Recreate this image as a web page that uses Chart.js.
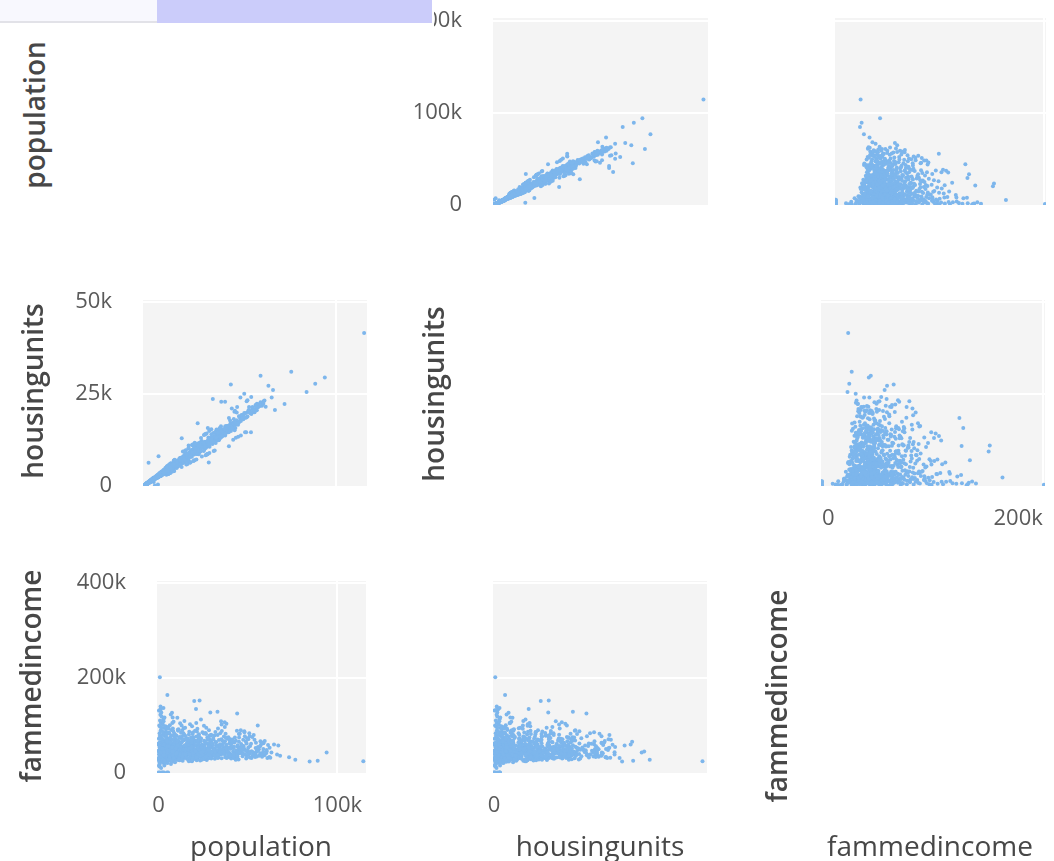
<!DOCTYPE html>
<html>
<head>
<meta charset="utf-8">
<script src="https://cdn.jsdelivr.net/npm/chart.js@4/dist/chart.umd.min.js"></script>
<style>
  html, body { margin: 0; padding: 0; background: #fff; }
  body { position: relative; width: 1054px; height: 861px; overflow: hidden; font-family: "Open Sans", sans-serif; }
  canvas { position: absolute; z-index: 1; }
  .title { position: absolute; color: #474747; white-space: nowrap; line-height: 1; z-index: 4; }
  .title.row { font-size: 28px; font-weight: 600; transform: translate(-50%, -50%) rotate(-90deg); }
  .title.col { font-size: 28px; transform: translate(-50%, -50%); }
  #bar { position: absolute; left: 0; top: 0; width: 434px; height: 31px; background: #fff; z-index: 10; }
  #bar .a { position: absolute; left: 0; top: 0; width: 157px; height: 21px; background: #f8f8fe; border-bottom: 2px solid #e2e2e8; }
  #bar .b { position: absolute; left: 157px; top: 0; width: 275px; height: 23px; background: #cbccfa; }
</style>
</head>
<body>
<div id="bar"><div class="a"></div><div class="b"></div></div>

<div class="title row" style="left:34px; top:115px;">population</div>
<div class="title row" style="left:32px; top:391px;">housingunits</div>
<div class="title row" style="left:30px; top:676px;">fammedincome</div>
<div class="title row" style="left:433px; top:394px;">housingunits</div>
<div class="title row" style="left:776px; top:696px;">fammedincome</div>
<div class="title col" style="left:261px; top:845px;">population</div>
<div class="title col" style="left:600px; top:845px;">housingunits</div>
<div class="title col" style="left:930px; top:845px;">fammedincome</div>

<script>
// One record per place: population, housing units and family median income.
const population = [
  114500, 94000, 89000, 84500, 76500, 73000, 68000, 66300, 64600, 67000,
  60500, 45000, 52000, 50000, 35600, 40000, 42000, 45500, 54500, 58600,
  57000, 55500, 44000, 33000, 29000, 21000, 20000, 23000, 5000, 800,
  1200, 33500, 2100, 7300, 7000, 300, 2800, 7600, 1000, 37000,
  35000, 38000, 48000, 46000, 51000, 27700, 19400, 44000, 53000, 120,
  850, 1900, 3100, 4800, 5400, 2500, 1500, 600, 3300, 60,
  40, 150,
  420, 1150, 2380, 3720, 860, 4510, 1640, 290, 3190, 2750,
  4080, 1930, 640, 3460, 2210, 4870, 1380, 3950, 170, 2620,
  4290, 1020, 3580, 1770, 4640, 2940, 530, 3830, 2070, 4420,
  1260, 3330, 4950, 2480, 760, 3670, 1490, 4180, 2840, 950,
  3110, 4730, 1820, 360, 2560, 3990, 1090, 4360, 2170, 3260,
  680, 4590, 1560, 3740, 2330, 4820, 1310, 2890, 3520, 820,
  4110, 1980, 2690, 4470, 590, 3380, 1710, 4240, 2420, 3860,
  1170, 4680, 2010, 3050, 470, 4000, 1420, 2790, 3620, 890,
  4540, 2270, 3180, 1600, 4920, 2520, 710, 3900, 1880, 4340,
  5230, 6840, 8170, 9560, 5710, 7390, 8920, 6120, 9830, 5480,
  7760, 8540, 6470, 9210, 5950, 7130, 8360, 6690, 9390, 5120,
  7950, 8780, 6290, 9680, 5860, 7510, 8050, 6980, 9040, 5390,
  7240, 8650, 6380, 9470, 5640, 7870, 8290, 6560, 9910, 5790,
  7620, 8450, 6020, 9150, 5330, 7050, 8830, 6740, 9300, 5560,
  7310, 8010, 6210, 9620, 5050, 7420, 8700, 6910, 9740, 6400,
  10420, 12870, 15330, 17960, 11250, 13740, 16480, 19120, 10880, 14260,
  18350, 12140, 15910, 19670, 11630, 13390, 17220, 14830, 10150, 16870,
  12530, 18790, 15020, 11910, 13980, 17580, 19340, 10690, 16210, 12720,
  14510, 18040, 11410, 15660, 19850, 13160, 17430, 10980, 16640, 12310,
  14090, 18560, 15240, 11770, 19480, 13560, 17050, 10330, 16030, 12950,
  14670, 18210, 15480, 11080, 19210, 13870, 17790, 10560, 16390, 12460,
  14380, 18960, 15780, 11540, 19590, 13270, 17330, 10740, 16950, 12060,
  14920, 18470, 15150, 11320, 19030, 13640, 17670, 10270, 16560, 12620,
  14170, 18680, 15570, 11860, 19780, 13030, 17120, 10810, 16300, 14720,
  20340, 23870, 27150, 29620, 21480, 25210, 28430, 22090, 26730, 24460,
  20870, 29040, 22640, 25890, 28010, 21150, 24930, 27580, 23310, 29880,
  20560, 26320, 22870, 28790, 24120, 21760, 27920, 25560, 23040, 29330,
  20120, 26040, 28250, 22350, 24780, 27310, 21920, 25420, 29570, 23590,
  20710, 26590, 28640, 22510, 24290, 27760, 21340, 25740, 29190, 23760,
  20990, 26880, 28110, 22230, 24640, 27040, 21610, 25080, 29450, 23190,
  20430, 26170, 28920, 22780, 24010, 27430, 21050, 25330, 29750, 23420,
  30450, 33820, 36270, 39110, 31690, 34560, 37840, 32230, 35910, 38560,
  30980, 33290, 36840, 39680, 31270, 34110, 37210, 32760, 35430, 38020,
  30740, 33560, 36590, 39370, 31940, 34830, 37530, 32490, 35170, 38840,
  30190, 33070, 36050, 39850, 31460, 34370, 37090, 32960, 35680, 38310,
  30620, 33690, 36410, 39240, 31830, 34960, 37670, 32340, 35290, 38670,
  40560, 43290, 46870, 49520, 41740, 44980, 47630, 42380, 45710, 48290,
  40940, 43860, 46230, 49880, 41320, 44250, 47150, 42760, 45390, 48840,
  51230, 53680, 56140, 58720, 52410, 54970, 57360, 50780, 55630, 59410,
  52980, 61250, 50240, 54310, 57890, 60480, 53250, 56780, 51760, 62130,
  41080, 43570, 46540, 48060, 44620, 47380, 42090, 49270, 45060, 40290,
  310, 1870, 2960, 4150, 720, 3380, 1240, 4630, 2510, 890,
  3810, 1560, 4420, 2090, 560, 3620, 1340, 4880, 2780, 1030,
  3250, 4010, 1680, 2340, 380, 3990, 1450, 4560, 2630, 810,
  3470, 1920, 4260, 1110, 2870, 4720, 650, 3140, 1790, 4370,
  2450, 970, 3700, 1390, 4490, 2180, 500, 3560, 1610, 4830,
  2700, 1160, 3290, 4090, 1990, 740, 3880, 1510, 4610, 2380,
  920, 3410, 1730, 4300, 2560, 430, 3760, 1280, 4950, 2910,
  1060, 3080, 4190, 1840, 610, 3520, 2240, 4680, 1370, 2820,
  5370, 8920, 12640, 6810, 14230, 9750, 11180, 7240, 13560, 10410,
  5890, 12070, 8330, 14780, 6450, 10960, 13020, 7790, 11640, 9280,
  5610, 13890, 8640, 12390, 6990, 10230, 14510, 7510, 11860, 9040,
  6180, 12850, 8170, 14060, 5750, 10690, 13340, 7060, 11420, 9560,
  6630, 12230, 8810, 14920, 5240, 10520, 13710, 7670, 11030, 9420,
  6030, 12520, 8480, 14370, 6320, 10080, 13180, 7380, 11750, 9890,
  5480, 12960, 8060, 14640, 6740, 10770, 13450, 7930, 11290, 9170,
  5930, 12310, 8710, 14140, 6570, 10340, 13830, 7120, 11570, 9660,
  6260, 12740, 8240, 14450, 5660, 10860, 13270, 7570, 11940, 9330,
  6880, 12180, 8560, 14290, 5190, 10150, 13640, 7850, 11360, 9980,
  15420, 22860, 18130, 27640, 16790, 25210, 19960, 28930, 21370, 17280,
  24090, 29510, 15980, 20640, 26370, 18770, 23510, 16340, 28160, 21940,
  19140, 25870, 17630, 29820, 22430, 15710, 27020, 20180, 24660, 18460,
  16920, 28470, 21050, 26080, 19520, 23180, 15230, 27930, 20950, 17940,
  25540, 22190, 29260, 16480, 24380, 18990, 26740, 21610, 15860, 28670,
  20370, 23780, 17110, 27370, 19730, 25090, 16180, 29030, 22670, 18290,
  24910, 20830, 26520, 15570, 23330, 19340, 28310, 17460, 25720, 21830,
  16650, 27200, 22960, 18610, 29640, 20520, 24230, 15090, 26910, 19250,
  23950, 17790, 28760, 21490, 16060, 25380, 22020, 29390, 18840, 24550,
  20040, 27510, 15370, 23040, 19610, 26230, 17380, 28040, 21260, 24790,
  16870, 22310, 27810, 18360, 25990, 20710, 29150, 17000, 23660, 26640,
  30840, 38260, 33470, 42710, 36190, 31520, 40380, 34850, 44160, 37620,
  32080, 39540, 35330, 43480, 30370, 41120, 36870, 33910, 44790, 38830,
  31140, 40860, 34260, 42030, 37250, 32650, 39070, 35760, 43820, 30650,
  41690, 36530, 33120, 44420, 38010, 31880, 40120, 34630, 42960, 37090,
  32410, 39810, 35110, 43150, 30080, 41430, 36350, 33690, 44030, 38540,
  31370, 40630, 34400, 42450, 37850, 32870, 39290, 35970, 43660, 30980,
  41880, 36730, 33250, 44600, 38180, 31700, 40000, 34940, 42220, 37400,
  45380, 52760, 48110, 57930, 46620, 54390, 50250, 60870, 47240, 55720,
  49430, 63160, 45860, 53240, 51090, 58560, 46990, 56310, 48750, 61940,
  50630, 47780, 54980, 45140, 59220, 52030, 49060, 56940, 46330, 53700,
  51520, 62540, 48430, 55180, 47010, 58070, 50900, 45620, 53990, 60170
];

const housingunits = [
  41500, 29400, 27700, 25500, 31000, 22200, 20600, 24000, 27200, 26000,
  29900, 27500, 25000, 24000, 23600, 22800, 22800, 21000, 21400, 22300,
  20000, 14500, 18400, 15700, 10800, 6900, 9300, 10900, 2200, 250,
  800, 6300, 6200, 8000, 320, 120, 1100, 2900, 400, 13500,
  12300, 14200, 17000, 16200, 18500, 17000, 12900, 10700, 14500, 60,
  320, 700, 1150, 1000, 40, 1200, 500, 280, 1200, 10,
  20, 30,
  180, 460, 910, 1390, 410, 1730, 720, 140, 1150, 1090,
  1480, 820, 330, 1310, 790, 1820, 530, 1590, 90, 1040,
  1560, 480, 1280, 650, 1690, 1180, 260, 1470, 760, 1610,
  570, 1210, 1910, 970, 350, 1340, 610, 1550, 1120, 430,
  1260, 1740, 690, 170, 1010, 1450, 520, 1630, 880, 1190,
  290, 1710, 640, 1420, 860, 1800, 590, 1070, 1330, 390,
  1520, 740, 1030, 1650, 250, 1240, 700, 1580, 920, 1430,
  550, 1760, 800, 1140, 220, 1500, 600, 1060, 1370, 370,
  1690, 840, 1220, 660, 1860, 950, 300, 1460, 730, 1640,
  1870, 2180, 2910, 3840, 2140, 2910, 2950, 2260, 3150, 1990,
  3120, 3110, 2370, 3690, 2180, 2640, 2660, 2410, 3010, 1840,
  3260, 3170, 2310, 3900, 2090, 2700, 2570, 2520, 3710, 1960,
  2600, 2740, 2340, 3080, 2030, 2790, 3370, 2440, 3220, 2110,
  2690, 3440, 2200, 2960, 1920, 2550, 3560, 2480, 3050, 2010,
  2630, 2860, 2290, 3860, 1800, 2670, 2810, 2500, 3330, 2350,
  3650, 5120, 6850, 5420, 3980, 3560, 5640, 7350, 4790, 5680,
  5710, 3170, 6240, 6080, 5190, 4670, 6770, 5180, 3560, 5090,
  3290, 7210, 5220, 5280, 4890, 6580, 5080, 3720, 4980, 5640,
  5830, 5600, 2980, 6110, 7480, 5830, 5370, 3870, 6420, 3210,
  4920, 5790, 6780, 4140, 6160, 3540, 6590, 3610, 4880, 5750,
  5130, 7060, 4010, 3900, 6020, 6120, 6850, 3680, 5140, 3240,
  5040, 7320, 7010, 4070, 6230, 3450, 6640, 3790, 5260, 5340,
  5200, 7130, 3940, 4000, 5980, 6050, 6720, 3600, 5120, 3280,
  4990, 6990, 6890, 4170, 6300, 3390, 6530, 3800, 6110, 5140,
  7120, 6310, 8620, 10850, 9620, 8640, 10310, 5840, 10480, 8210,
  9310, 11260, 8230, 6840, 9470, 7080, 11020, 9040, 8010, 7900,
  7430, 10190, 10170, 9460, 8070, 5720, 11040, 9270, 10240, 10340,
  6960, 6930, 8760, 8110, 11060, 10960, 7640, 6680, 11880, 8400,
  9280, 9450, 9180, 5950, 8680, 11450, 9480, 9020, 9280, 6270,
  7370, 9590, 10930, 7980, 8320, 7120, 7720, 9180, 12960, 8290,
  7270, 11640, 11620, 8150, 6330, 8690, 7530, 11290, 10700, 8480,
  10620, 8890, 12530, 15620, 14080, 11840, 13610, 8420, 14340, 13320,
  13760, 13080, 13420, 13950, 10890, 15110, 14590, 8610, 11320, 13880,
  10930, 10690, 9570, 12980, 11510, 15330, 15240, 8450, 12860, 12450,
  10710, 11890, 9430, 16150, 13910, 12460, 11620, 8590, 12750, 15060,
  11240, 14830, 13390, 13010, 8280, 12590, 14820, 14190, 12950, 12370,
  14780, 15620, 20110, 17380, 14910, 16530, 13020, 15270, 16140, 21400,
  14620, 16080, 12480, 18260, 15330, 15710, 20350, 15960, 16420, 13310,
  18740, 23260, 20830, 21460, 14520, 20270, 19940, 19120, 24110, 22050,
  19780, 21740, 13640, 20580, 21930, 22690, 22980, 20310, 19380, 22960,
  13860, 14510, 18130, 19920, 17720, 15650, 16180, 18870, 14860, 15240,
  150, 640, 1390, 1620, 380, 1090, 590, 2120, 870, 460,
  1660, 540, 1580, 980, 260, 1300, 650, 1690, 1230, 390,
  1420, 1310, 820, 790, 210, 1860, 520, 1510, 1140, 420,
  1160, 880, 1870, 430, 1020, 2010, 340, 1440, 620, 1720,
  1080, 510, 1270, 640, 1540, 760, 270, 1610, 570, 2080,
  930, 560, 1520, 1380, 890, 320, 1350, 700, 1640, 1050,
  450, 1170, 780, 1940, 880, 230, 1690, 460, 1720, 1310,
  490, 1060, 1830, 640, 300, 1230, 1010, 1610, 600, 970,
  1760, 3840, 3790, 2850, 5260, 3120, 4790, 2270, 4410, 4380,
  2410, 3720, 3410, 4830, 2090, 4530, 4060, 3380, 3650, 3800,
  1980, 5820, 2710, 4840, 2480, 3570, 5170, 3180, 4070, 2950,
  2660, 4180, 3450, 4870, 1940, 4420, 4430, 2410, 3930, 3590,
  2240, 5010, 2960, 5770, 1870, 3490, 4390, 3150, 4590, 3220,
  2410, 4080, 3620, 5560, 2150, 4100, 4710, 2460, 3640, 4220,
  1850, 5180, 2790, 4690, 2880, 3660, 5120, 2720, 4740, 3080,
  2450, 3970, 3540, 5460, 2200, 4350, 4590, 2960, 3860, 3990,
  2180, 5230, 2730, 4600, 2380, 3700, 5360, 2500, 4900, 3270,
  2330, 4560, 3000, 5640, 1790, 3420, 4840, 3310, 4010, 3590,
  5120, 7060, 7340, 9020, 4790, 9860, 6420, 11720, 8380, 5300,
  7840, 10330, 6610, 6340, 10720, 6180, 9040, 6750, 8570, 7520,
  7180, 8490, 5560, 12170, 6910, 5920, 10540, 7960, 7850, 7490,
  5410, 9620, 6680, 10060, 7630, 8120, 6060, 9340, 8410, 5840,
  9400, 6960, 10880, 6240, 8330, 7600, 9050, 8930, 5130, 11530,
  6720, 9370, 6630, 8870, 6590, 9730, 5350, 10270, 7870, 7060,
  8780, 7350, 10380, 5390, 7860, 7290, 9580, 6690, 8840, 8450,
  5940, 10720, 7440, 6530, 11100, 7680, 9560, 5620, 9070, 7440,
  8150, 6170, 11300, 7890, 5590, 9880, 8430, 10160, 6720, 9170,
  7040, 10110, 5890, 8650, 6880, 9340, 6370, 10790, 7320, 9030,
  6250, 8470, 9540, 6910, 10350, 7210, 10880, 6400, 8070, 10020,
  9420, 14730, 11020, 16210, 12870, 11940, 13350, 13980, 15130, 12290,
  10380, 15710, 11640, 14520, 11790, 13680, 14620, 10570, 16880, 13370,
  9760, 14970, 12830, 13620, 13060, 11010, 14560, 12270, 15480, 10430,
  13820, 12190, 12430, 15730, 14110, 10260, 14480, 11480, 16040, 12870,
  11670, 13120, 13260, 14900, 10340, 15360, 12050, 12860, 14580, 14140,
  10780, 13570, 12190, 15580, 12690, 12080, 14310, 11950, 16260, 11480,
  14090, 13310, 11150, 15290, 14360, 10670, 14810, 12570, 14100, 13060,
  16340, 18470, 17800, 20850, 15850, 20120, 17590, 22520, 16530, 19500,
  18780, 21470, 16970, 18630, 18900, 20490, 15040, 21390, 16580, 22290,
  19240, 16720, 19790, 15350, 21310, 19770, 17170, 20490, 17140, 18800,
  18030, 23140, 16950, 19860, 17400, 21490, 18330, 15510, 20250, 21660
];

const fammedincome = [
  23800, 42500, 24800, 23200, 27000, 32400, 35200, 38200, 59000, 56800,
  44300, 65000, 30600, 43000, 58600, 70000, 51000, 82000, 63000, 49500,
  66000, 99000, 124500, 128000, 126500, 134000, 151000, 152000, 163500, 201000,
  133000, 47000, 41000, 52000, 18000, 131000, 136000, 126000, 132000, 106000,
  108000, 103000, 87000, 89000, 76500, 61000, 72000, 55000, 41000, 0,
  0, 0, 0, 0, 0, 0, 9800, 12500, 14800, 46000,
  27000, 61000,
  38500, 52300, 61800, 44600, 97200, 57100, 33900, 71400, 49800, 112500,
  66300, 29700, 83100, 55200, 42100, 71900, 104800, 38200, 58600, 47300,
  92400, 26800, 63700, 118300, 45900, 79500, 22400, 51600, 68900, 35700,
  88700, 24900, 59300, 101200, 47800, 77100, 39600, 86300, 31800, 64200,
  93800, 50400, 72600, 15200, 56700, 42900, 121700, 74800, 37100, 67400,
  53900, 28600, 95100, 61200, 46400, 82600, 34300, 108400, 40700, 76900,
  54600, 87400, 25700, 69800, 44100, 116200, 58100, 36900, 79800, 48300,
  139500, 63100, 52800, 19800, 99300, 45200, 73400, 84900, 57600, 109700,
  41300, 65900, 30400, 126800, 53200, 70300, 62500, 97600, 43700, 80100,
  51900, 73800, 44200, 62700, 96400, 38800, 55300, 81700, 47600, 66100,
  104300, 35400, 58900, 76400, 42800, 89600, 61500, 29300, 70900, 53700,
  115900, 48100, 67900, 39500, 84200, 56300, 92800, 45600, 64800, 37200,
  78300, 52500, 99800, 59400, 71200, 41600, 86900, 50200, 68700, 33100,
  61900, 107200, 47900, 75600, 57800, 44900, 82300, 63600, 36400, 93100,
  54100, 69400, 40300, 79200, 65300, 48700, 58200, 122600, 51100, 72700,
  56800, 72100, 48300, 64900, 91200, 39700, 59800, 81400, 45100, 68300,
  53600, 103700, 42400, 74500, 61700, 35800, 86200, 50900, 77800, 46700,
  63200, 97400, 57300, 40600, 82700, 54800, 69100, 31900, 71600, 49400,
  108900, 44300, 65600, 58400, 39200, 76100, 62800, 87900, 52100, 47700,
  93600, 57900, 70800, 34700, 66400, 55100, 80300, 42900, 63900, 99200,
  48900, 73700, 37600, 58700, 84600, 45800, 68200, 115300, 54300, 61300,
  79600, 50700, 41800, 72900, 60400, 88400, 46100, 66800, 55600, 38400,
  94700, 62100, 77300, 51300, 43400, 69700, 101800, 49600, 58300, 83900,
  36100, 67600, 53400, 75200, 48500, 64100, 41200, 90300, 70100, 57200,
  58200, 71900, 49700, 63400, 86500, 42100, 77800, 55400, 94300, 38700,
  67200, 52600, 80900, 46300, 61800, 104600, 57100, 43900, 72400, 36200,
  64700, 83600, 50800, 69300, 31400, 92100, 55900, 66800, 47400, 78500,
  41800, 59700, 89400, 62300, 51700, 74100, 38200, 98700, 54300, 65900,
  48600, 81200, 44700, 70600, 59100, 35300, 76200, 53800, 67400, 111800,
  57600, 42600, 73600, 60900, 85200, 50300, 66100, 45200, 79900, 56200,
  88100, 63700, 39800, 75300, 52900, 69800, 47100, 82400, 58800, 43200,
  57900, 68400, 49200, 74600, 42800, 83100, 55600, 63800, 39400, 71200,
  51400, 92700, 46500, 61900, 78300, 53700, 66200, 45900, 87600, 58400,
  69500, 36800, 75800, 52300, 64600, 47300, 81900, 56100, 70400, 43600,
  60700, 79100, 54200, 67300, 48800, 59600, 96100, 41700, 66900, 50600,
  72800, 55400, 62400, 38900, 85700, 46200, 73300, 57300, 101500, 52800,
  58600, 67100, 49800, 72500, 44300, 81400, 55900, 63200, 41800, 76700,
  53100, 88200, 60400, 47200, 69800, 57400, 38600, 74100, 52600, 65700,
  56200, 68900, 49300, 61700, 74800, 45100, 58900, 82600, 53700, 66400,
  42700, 57800, 70300, 51800, 63500, 47600, 79200, 55300, 60900, 52100,
  62700, 45600, 57100, 84900, 48300, 69200, 54400, 61100, 73900, 50900,
  31200, 44700, 28900, 39600, 52300, 36100, 47800, 25400, 41900, 33700,
  49200, 22600, 37500, 45300, 29800, 54100, 34900, 42200, 27300, 38800,
  46500, 31800, 57200, 24100, 43600, 35200, 50700, 29100, 40300, 18700,
  36800, 48100, 26700, 44900, 33100, 55600, 39200, 21900, 47100, 30600,
  42800, 37300, 25900, 51400, 34200, 40900, 13600, 45800, 28400, 38100,
  32500, 56300, 41100, 23800, 49600, 36400, 43200, 30100, 46900, 27800,
  53800, 35600, 39900, 20400, 44300, 31400, 48700, 37900, 26200, 42100,
  34600, 58900, 29500, 45100, 38400, 24700, 50200, 33300, 41600, 36700,
  38700, 29600, 44300, 33800, 51900, 27400, 41200, 36500, 24800, 47600,
  32200, 55800, 39100, 30700, 45500, 26300, 42700, 35900, 49300, 21700,
  37100, 43800, 28700, 53600, 34500, 40800, 31600, 46200, 25800, 39700,
  48400, 30300, 42000, 36900, 27100, 57100, 33400, 44800, 29200, 38300,
  51100, 35600, 23400, 41700, 46900, 31900, 37800, 54300, 28100, 43300,
  34800, 49800, 26900, 40400, 32600, 45900, 38900, 22800, 47300, 35100,
  42400, 29900, 52600, 36200, 25300, 44100, 33900, 48900, 30800, 39300,
  56700, 27700, 41400, 34100, 46400, 31100, 43700, 24300, 37600, 50500,
  29400, 40100, 35400, 47900, 26600, 42900, 32900, 53100, 38100, 28300,
  45200, 36600, 30900, 49100, 19900, 41900, 34300, 44600, 27900, 39500,
  33600, 44100, 27800, 39200, 48500, 31300, 42600, 36000, 25700, 46700,
  38200, 29400, 51700, 34900, 41000, 23600, 45800, 37400, 30600, 53200,
  35500, 28600, 43400, 39900, 32200, 49900, 26400, 40700, 36700, 47100,
  30100, 55000, 34100, 42200, 28200, 38600, 46300, 31700, 44900, 24900,
  37000, 50800, 33000, 41500, 29000, 45300, 35800, 27300, 39500, 48000,
  32700, 43900, 26000, 38000, 52400, 34400, 40200, 30400, 46000, 36300,
  28900, 42900, 33800, 49400, 25200, 37800, 44500, 31000, 41300, 35300,
  47700, 29700, 39000, 54600, 32400, 43000, 27000, 38800, 45600, 30900,
  36900, 51300, 34000, 40500, 28500, 46800, 33300, 42300, 26800, 37700,
  44200, 31500, 49000, 35700, 41800, 29200, 38500, 47400, 32000, 43600,
  27500, 40000, 34700, 52000, 30000, 45000, 36100, 24000, 42500, 33500,
  36400, 44900, 31200, 40300, 48700, 28800, 38600, 42700, 33600, 51500,
  35000, 41600, 29900, 46100, 39400, 32900, 45400, 37500, 27400, 43100,
  40700, 34600, 49600, 30500, 37000, 53900, 33200, 42000, 28100, 45700,
  36100, 47500, 31600, 39800, 44000, 34300, 50400, 38100, 30300, 41100,
  46600, 32300, 38900, 27100, 43800, 35700, 48300, 40000, 33000, 45000,
  37200, 29500, 42400, 36800, 50000, 31000, 39100, 44300, 34800, 47200,
  33800, 41400, 37700, 46300, 30700, 43500, 35400, 49200, 38400, 32100,
  41200, 36700, 47800, 33100, 44500, 39300, 52600, 30800, 38000, 45900,
  34900, 42100, 49500, 37300, 31900, 43700, 40100, 35600, 46800, 32600,
  38700, 51300, 33900, 42800, 36400, 44700, 29600, 40500, 48200, 35000,
  43200, 31400, 39000, 46000, 34200, 37900, 41700, 50700, 32900, 40800
];

// Tick values of each variable's axis, as a column (x) axis and as a row (y) axis
const populationXTicks = [0, 100000];
const populationYTicks = [0, 100000, 200000];
const housingunitsXTicks = [0];
const housingunitsYTicks = [0, 25000, 50000];
const fammedincomeXTicks = [0, 200000];
const fammedincomeYTicks = [0, 200000, 400000];

const columns = { population, housingunits, fammedincome };
const xTicks = { population: populationXTicks, housingunits: housingunitsXTicks, fammedincome: fammedincomeXTicks };
const yTicks = { population: populationYTicks, housingunits: housingunitsYTicks, fammedincome: fammedincomeYTicks };

// Axis extents of each variable when it runs along a column (x) or a row (y)
const xRange = { population: [-800, 116000], housingunits: [-200, 42400], fammedincome: [-800, 202000] };
const yRange = { population: [-300, 203000], housingunits: [-100, 50500], fammedincome: [-1000, 404000] };

// Off-diagonal cells of the matrix: plot-area box [left, top, right, bottom]
const panels = [
  { x: 'housingunits', y: 'population',   box: [493, 18, 708, 205],  xLabels: false, yLabels: true },
  { x: 'fammedincome', y: 'population',   box: [835, 18, 1046, 205], xLabels: false, yLabels: false },
  { x: 'population',   y: 'housingunits', box: [143, 300, 367, 486], xLabels: false, yLabels: true },
  { x: 'fammedincome', y: 'housingunits', box: [821, 300, 1045, 486], xLabels: true, yLabels: false, xAlign: 'inner' },
  { x: 'population',   y: 'fammedincome', box: [157, 581, 366, 773], xLabels: true, yLabels: true },
  { x: 'housingunits', y: 'fammedincome', box: [493, 581, 707, 773], xLabels: true, yLabels: false }
];

const PAD_L = 140, PAD_T = 40, PAD_R = 40, PAD_B = 60;
const POINT_COLOR = '#7db6ec';

const plotBackground = {
  id: 'plotBackground',
  beforeDraw(chart) {
    const { ctx, chartArea: a } = chart;
    ctx.save();
    ctx.fillStyle = '#f4f4f4';
    ctx.fillRect(a.left, a.top, a.right - a.left, a.bottom - a.top);
    ctx.restore();
  }
};

function formatTick(v) {
  return v === 0 ? '0' : (v / 1000) + 'k';
}

function makeAxis(values, range, isY, showLabels, align) {
  const ticks = values.filter(v => v >= range[0] && v <= range[1]);
  return {
    type: 'linear',
    min: range[0],
    max: range[1],
    afterBuildTicks: scale => { scale.ticks = ticks.map(v => ({ value: v })); },
    afterFit: scale => { if (isY) scale.width = PAD_L; else scale.height = PAD_B; },
    border: { display: false },
    grid: {
      color: c => (c.tick && c.tick.value === 0) ? 'rgba(0,0,0,0)' : '#ffffff',
      lineWidth: 2,
      drawTicks: true,
      tickLength: isY ? 31 : 20,
      tickColor: 'rgba(0,0,0,0)'
    },
    ticks: {
      display: showLabels,
      padding: 0,
      align: align || 'center',
      color: '#5a5a5a',
      font: { family: '"Open Sans", sans-serif', size: 22 },
      callback: v => formatTick(v)
    }
  };
}

for (const p of panels) {
  const [l, t, r, b] = p.box;
  const w = (r - l) + PAD_L + PAD_R;
  const h = (b - t) + PAD_T + PAD_B;
  const cv = document.createElement('canvas');
  cv.width = w; cv.height = h;
  cv.style.width = w + 'px'; cv.style.height = h + 'px';
  cv.style.left = (l - PAD_L) + 'px'; cv.style.top = (t - PAD_T) + 'px';
  document.body.appendChild(cv);

  const xs = columns[p.x], ys = columns[p.y];
  new Chart(cv, {
    type: 'scatter',
    data: {
      datasets: [{
        data: xs.map((v, i) => ({ x: v, y: ys[i] })),
        backgroundColor: POINT_COLOR,
        borderWidth: 0,
        pointRadius: 2,
        pointHoverRadius: 2
      }]
    },
    options: {
      responsive: false,
      animation: false,
      devicePixelRatio: 1,
      events: [],
      layout: { padding: { left: 0, top: PAD_T, right: PAD_R, bottom: 0 } },
      plugins: { legend: { display: false }, tooltip: { enabled: false } },
      scales: {
        x: makeAxis(xTicks[p.x], xRange[p.x], false, p.xLabels, p.xAlign),
        y: makeAxis(yTicks[p.y], yRange[p.y], true, p.yLabels)
      }
    },
    plugins: [plotBackground]
  });
}
</script>
</body>
</html>
